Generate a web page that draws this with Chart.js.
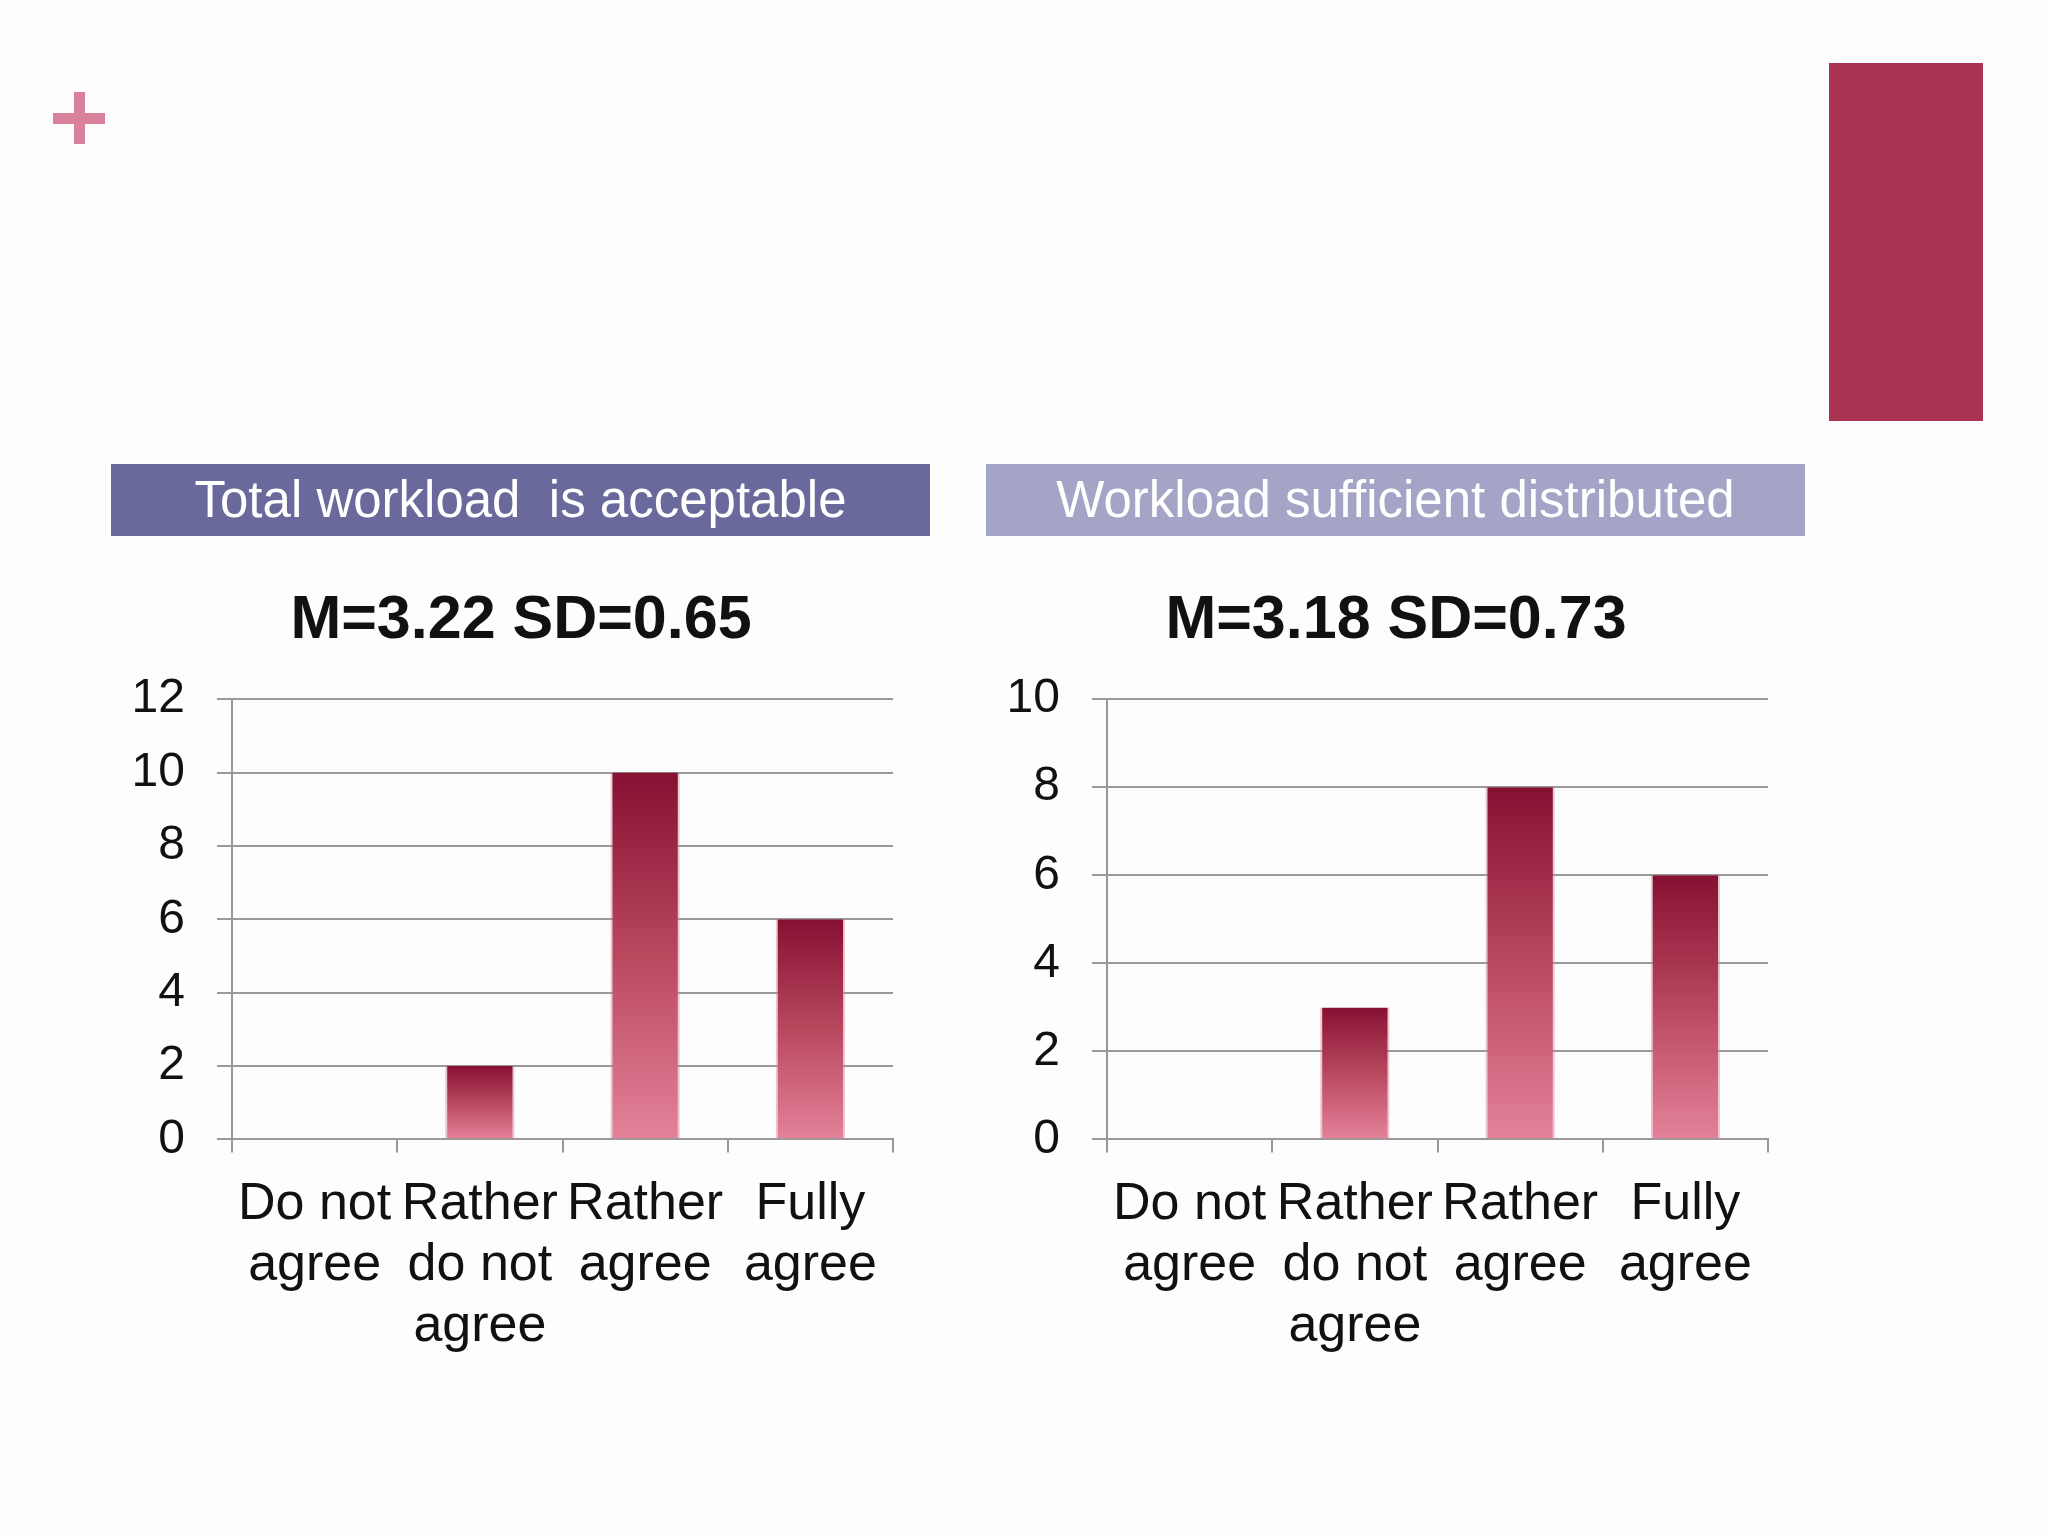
<!DOCTYPE html>
<html>
<head>
<meta charset="utf-8">
<script src="https://cdn.jsdelivr.net/npm/chart.js@4"></script>
<style>
  body { margin: 0; width: 2048px; height: 1536px; background: #fdfdfd; position: relative; overflow: hidden; font-family: "Liberation Sans", Arial, sans-serif; }
  .plusH { position: absolute; left: 53px; top: 113px; width: 52px; height: 11px; background: #d9809a; }
  .plusV { position: absolute; left: 74px; top: 92px; width: 11px; height: 52px; background: #d9809a; }
  .redBox { position: absolute; left: 1829px; top: 63px; width: 154px; height: 358px; background: #a93350; }
  .head { position: absolute; top: 464px; height: 72px; width: 819px; color: #fff; font-size: 51px; line-height: 72px; text-align: center; white-space: pre; }
  .chartBox { position: absolute; top: 560px; width: 819px; height: 820px; }
</style>
</head>
<body>
<div class="plusH"></div><div class="plusV"></div>
<div class="redBox"></div>
<div class="head" style="left:111px;background:#69699c;">Total workload  is acceptable</div>
<div class="head" style="left:986px;background:#a4a4c6;">Workload sufficient distributed</div>
<div class="chartBox" style="left:111px;"><canvas id="chartLeft"></canvas></div>
<div class="chartBox" style="left:986px;"><canvas id="chartRight"></canvas></div>
<script>
// answer categories (shared by both charts)
const categories = [["Do not", "agree"], ["Rather", "do not", "agree"], ["Rather", "agree"], ["Fully", "agree"]];
// counts per answer
const workloadAcceptable = [0, 2, 10, 6];
const workloadDistributed = [0, 3, 8, 6];
const titleLeft = "M=3.22 SD=0.65";
const titleRight = "M=3.18 SD=0.73";
const maxLeft = 12;
const maxRight = 10;

const fontName = "'Liberation Sans', Arial, sans-serif";

function barGradient(context) {//each bar gets its own dark-to-light fill
    const chart = context.chart;
    if (!chart.chartArea) return "#a93350";
    const y = chart.scales.y;
    const top = y.getPixelForValue(context.raw || 0);
    const bottom = y.getPixelForValue(0);
    if (bottom - top < 1) return "#8a1034";
    const g = chart.ctx.createLinearGradient(0, top, 0, bottom);
    g.addColorStop(0, "#861032");
    g.addColorStop(0.5, "#b9485f");
    g.addColorStop(1, "#e3829a");
    return g;
}

// the y axis box is kept narrow so the title centres like the slide; give its labels room to the left
const labelRoom = {
    id: 'labelRoom',
    afterLayout(chart) { chart.scales.y.left -= 40; }
};

function makeChart(id, values, title, maxY) {
    const ctx = document.getElementById(id).getContext('2d');
    return new Chart(ctx, {
        type: 'bar',
        data: {
            labels: categories,
            datasets: [{
                data: values,
                backgroundColor: barGradient,
                borderColor: "rgba(214, 130, 150, 0.45)",
                borderWidth: { left: 2, right: 2, top: 0, bottom: 0 },
                barPercentage: 0.42,
                categoryPercentage: 1
            }]
        },
        options: {
            responsive: true,
            maintainAspectRatio: false,
            animation: false,
            layout: { padding: { left: 38, right: 37, top: 0, bottom: 1 } },
            plugins: {
                legend: { display: false },
                tooltip: { enabled: false },
                title: {
                    display: true,
                    text: title,
                    color: "#111",
                    font: { family: fontName, size: 61, weight: 'bold' },
                    padding: { top: 25, bottom: 41 }
                }
            },
            scales: {
                x: {
                    offset: true,
                    border: { color: "#999", width: 2 },
                    grid: { offset: true, drawOnChartArea: false, drawTicks: true, tickLength: 13, color: "#999", lineWidth: 2 },
                    ticks: { color: "#111", padding: 22, maxRotation: 0, autoSkip: false, font: { family: fontName, size: 52, lineHeight: 1.17 } }
                },
                y: {
                    min: 0,
                    max: maxY,
                    afterFit: function (scale) { scale.width = 83; },
                    border: { color: "#999", width: 2 },
                    grid: { color: "#999", lineWidth: 2, tickLength: 15 },
                    ticks: { stepSize: 2, color: "#111", padding: 32, font: { family: fontName, size: 48 } }
                }
            }
        },
        plugins: [labelRoom]
    });
}

makeChart("chartLeft", workloadAcceptable, titleLeft, maxLeft);
makeChart("chartRight", workloadDistributed, titleRight, maxRight);
</script>
</body>
</html>
